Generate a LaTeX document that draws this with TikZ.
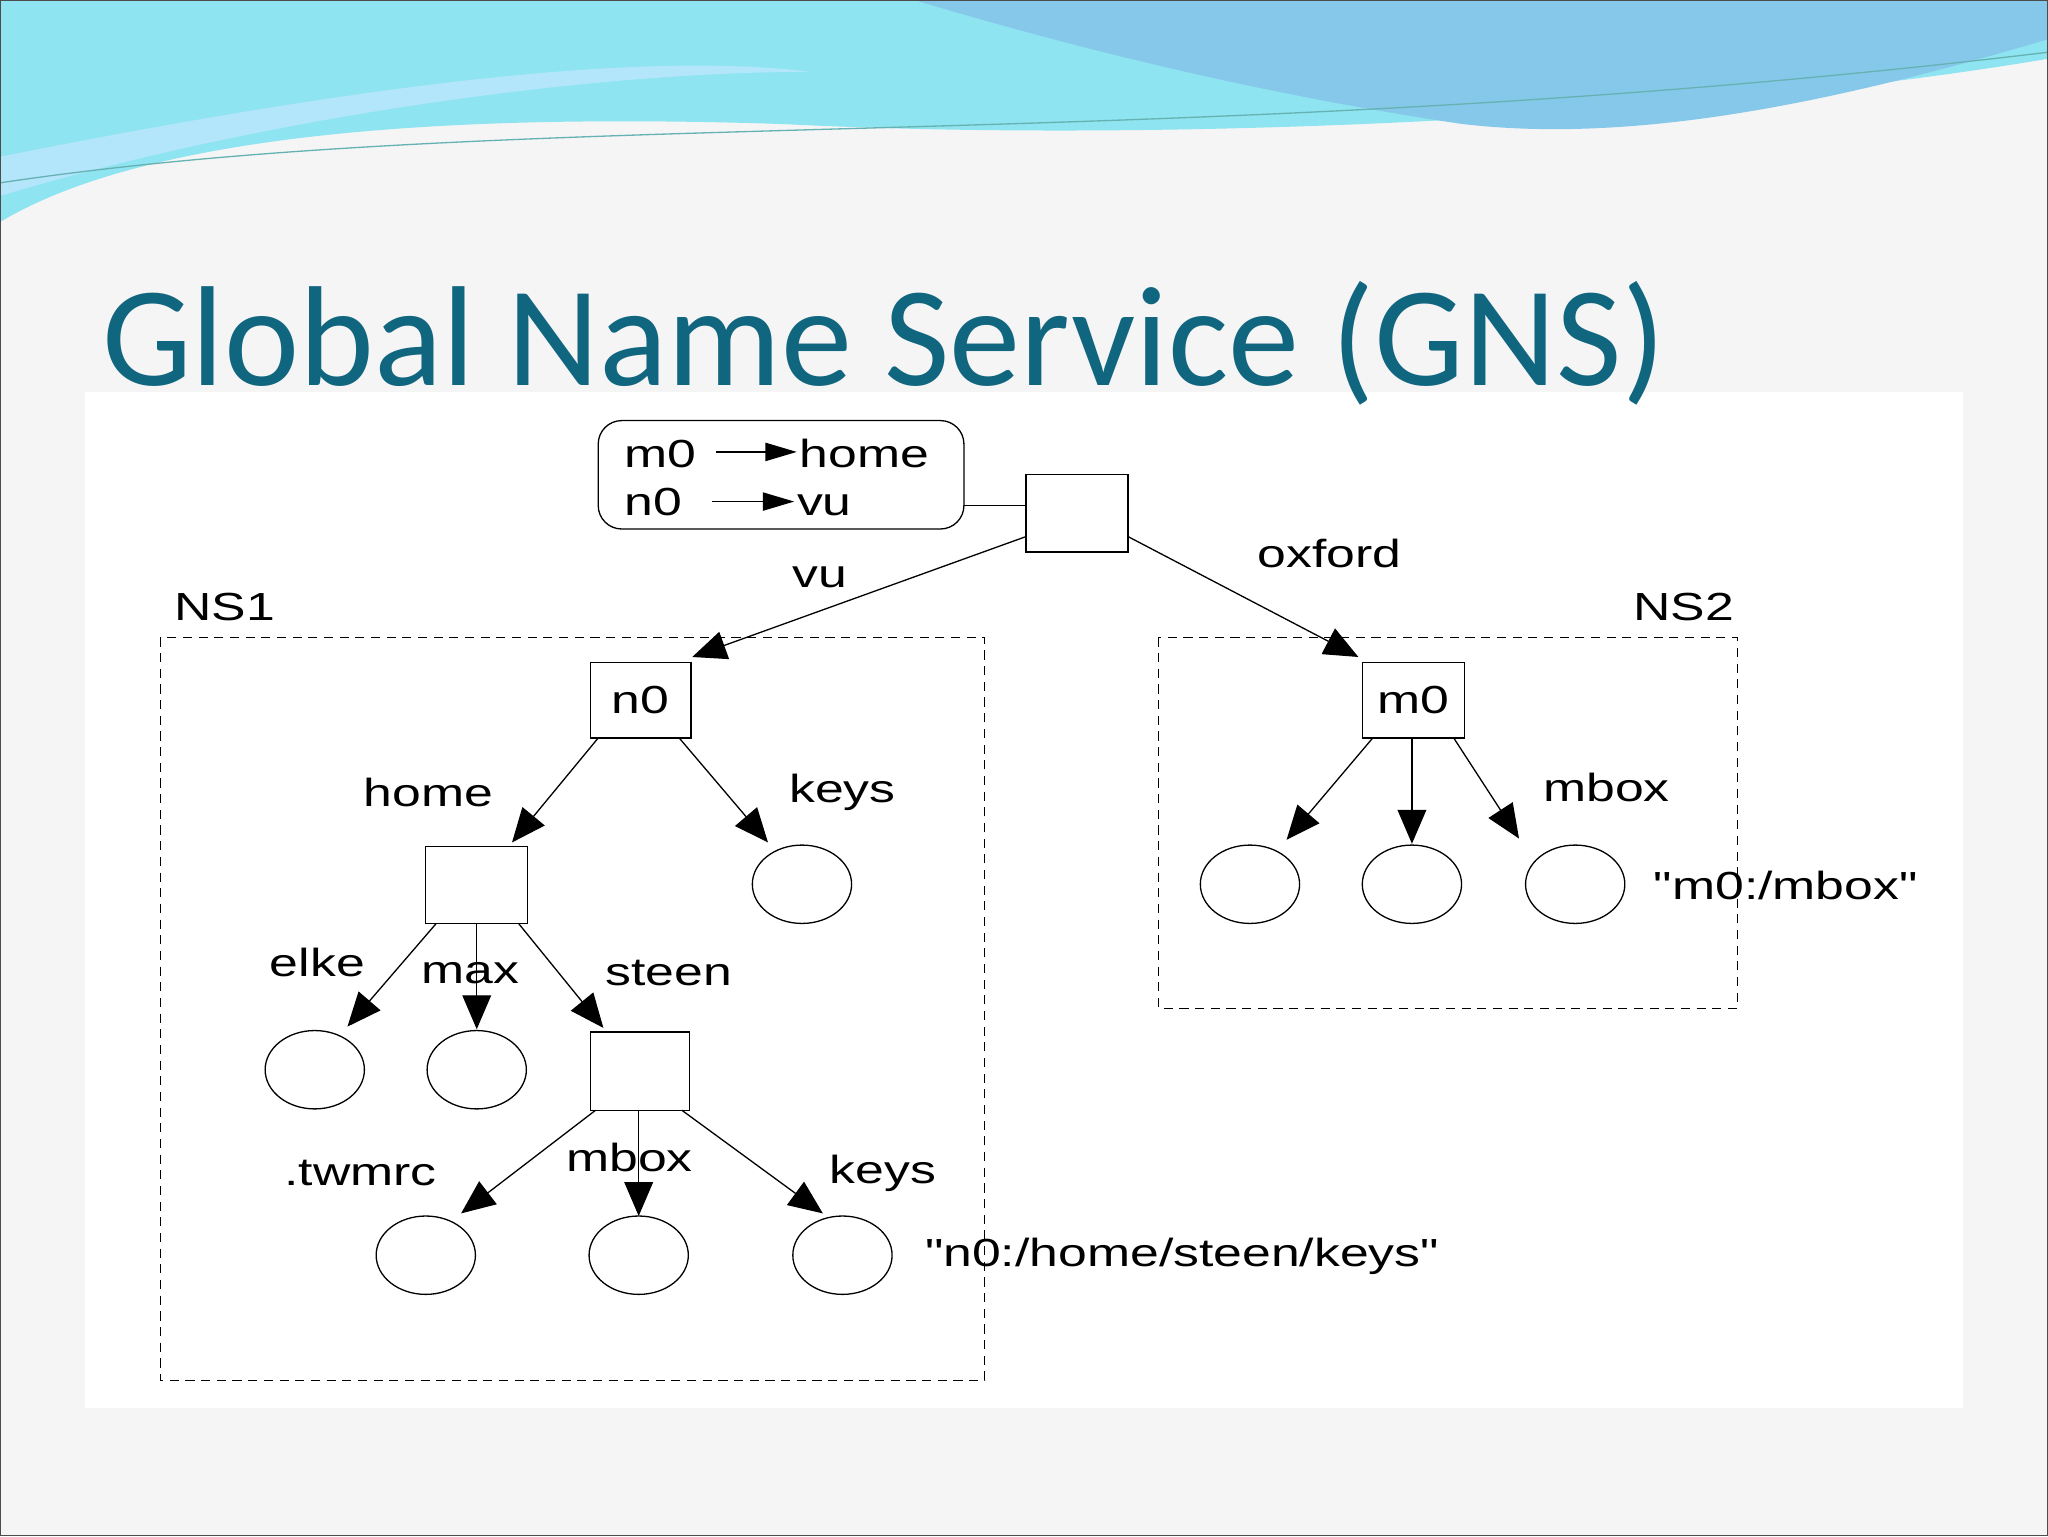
\documentclass[tikz,border=0pt]{standalone}
\usepackage{fontspec}
\setmainfont{Liberation Sans}[FakeStretch=1.32,Ligatures={NoCommon,TeXOff}]
\newfontfamily\titlefont{Carlito}
\usetikzlibrary{arrows.meta,shapes.geometric}
\definecolor{titlec}{HTML}{10657F}
\definecolor{wave1}{HTML}{8EE4F0}
\definecolor{wave2}{HTML}{86C8EA}
\newcommand{\qq}{"}
\begin{document}
\begin{tikzpicture}[x=1pt,y=-1pt,
  lbl/.style={font=\fontsize{30}{32}\selectfont,inner sep=0pt},
  sq/.style={draw,line width=1pt,minimum width=78pt,minimum height=59pt,inner sep=0pt},
  cir/.style={draw,ellipse,line width=1pt,minimum width=76pt,minimum height=60pt,inner sep=0pt},
  arr/.style={line width=1pt,-{Triangle[length=26pt,width=22pt]}},
  dbox/.style={draw,dashed,line width=1pt,dash pattern=on 7pt off 5pt}]
\useasboundingbox (0,0) rectangle (1568,1176);
\fill[black!4] (0,0) rectangle (1568,1176);
\fill[white] (65,300) rectangle (1503,1078);
% top wave
\fill[wave1] (0,0) -- (1568,0) -- (1568,45) .. controls (1300,90) and (900,110) .. (600,95) .. controls (300,85) and (100,110) .. (0,170) -- cycle;
\fill[wave2] (700,0) -- (1568,0) -- (1568,30) .. controls (1400,80) and (1250,110) .. (1120,95) .. controls (950,70) and (800,30) .. (700,0) -- cycle;
\fill[white!70!cyan] (0,120) .. controls (300,60) and (500,40) .. (620,55) .. controls (450,55) and (200,90) .. (0,150) -- cycle;
\draw[teal!60,line width=1pt] (0,140) .. controls (400,80) and (900,120) .. (1568,40);
\draw[black!70,line width=1pt] (0.5,0.5) rectangle (1567.5,1175.5);
% title
\node[anchor=base west,inner sep=0pt,text=titlec,font=\titlefont\fontsize{109}{112}\selectfont] (title) at (78,295) {Global Name Service (GNS)};
% top mapping box
\node[draw,rounded corners=18pt,line width=1pt,minimum width=280pt,minimum height=83pt] (map) at (598,363.5) {};
\node[lbl,anchor=base west] (m0t) at (478,358) {m0};
\node[lbl,anchor=base west] (homet) at (612,358) {home};
\node[lbl,anchor=base west] (n0t) at (478,395) {n0};
\node[lbl,anchor=base west] (vut) at (610,395) {vu};
\draw[line width=1pt,-{Triangle[length=24pt,width=14pt]}] (548,346) -- (610,346);
\draw[line width=1pt,-{Triangle[length=24pt,width=14pt]}] (545,384) -- (608,384);
\node[sq] (root) at (824.5,393) {};
\draw[line width=1pt] (738,387) -- (root.west |- 0,387);
% namespaces
\draw[dbox] (123,488) rectangle (754,1057);
\draw[dbox] (887,488) rectangle (1330,772);
\node[lbl] (ns1) at (172,465) {NS1};
\node[lbl] (ns2) at (1289,465) {NS2};
\node[sq,minimum width=77pt,minimum height=58pt,lbl] (n0) at (490.5,536) {n0};
\node[sq,minimum width=78pt,minimum height=58pt,lbl] (m0) at (1082,536) {m0};
\draw[arr] (root.south west) ++(0,-12) -- (530,503);
\node[lbl] (vul) at (628,442) {vu};
\draw[arr] (root.east) ++(0,18) -- (1040,503);
\node[lbl] (oxl) at (1018,424) {oxford};
% NS2
\node[cir] (c1) at (957,677) {};
\node[cir] (c2) at (1081,677) {};
\node[cir] (c3) at (1206,677) {};
\draw[arr] (1051,565) -- (985,643);
\draw[arr] (1081,565) -- (1081,646);
\draw[arr] (1113,565) -- (1163,642);
\node[lbl] (mboxr) at (1230,603) {mbox};
\node[lbl,anchor=west] (m0path) at (1266,678) {\qq m0:/mbox\qq};
% NS1
\node[sq,minimum width=78pt,minimum height=59pt] (home) at (365,677.5) {};
\node[cir] (keys1) at (614,677) {};
\draw[arr] (458,565) -- (392,645);
\draw[arr] (520,565) -- (588,645);
\node[lbl] (homel) at (328,607) {home};
\node[lbl] (keysl) at (645,607) {keys};
\node[cir] (elke) at (241,819) {};
\node[cir] (max) at (365,819) {};
\node[sq,minimum width=76pt,minimum height=60pt] (steen) at (490,820) {};
\draw[arr] (334,707) -- (266,786);
\draw[arr] (365,707) -- (365,788);
\draw[arr] (397,707) -- (462,787);
\node[lbl] (elkel) at (243,737) {elke};
\node[lbl] (maxl) at (360,745) {max};
\node[lbl] (steenl) at (512,745) {steen};
\node[cir] (tw) at (326,961) {};
\node[cir] (mb) at (489,961) {};
\node[cir] (ky) at (645,961) {};
\draw[arr] (456,850) -- (353,929);
\draw[arr] (489,850) -- (489,931);
\draw[arr] (522,850) -- (630,929);
\node[lbl] (twl) at (276,898) {.twmrc};
\node[lbl] (mbl) at (482,886) {mbox};
\node[lbl] (kyl) at (676,898) {keys};
\node[lbl,anchor=west] (n0path) at (708,962) {\qq n0:/home/steen/keys\qq};
\end{tikzpicture}
\end{document}
